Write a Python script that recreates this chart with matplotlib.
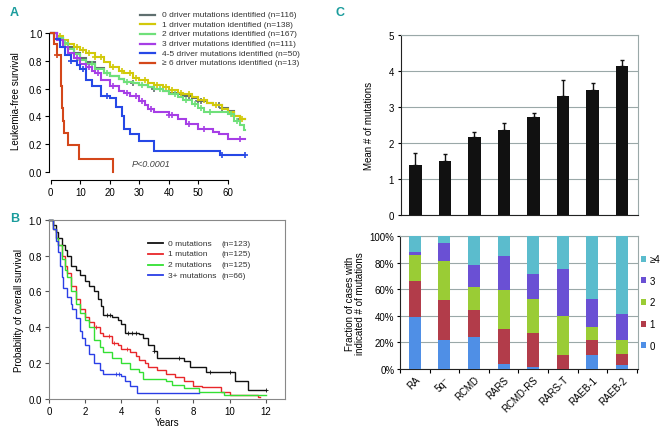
import numpy as np
import matplotlib
matplotlib.use("Agg")
import matplotlib.pyplot as plt

plt.rcParams['font.family'] = ['Liberation Sans Narrow', 'Liberation Sans', 'DejaVu Sans']

W, H = 671, 431
fig = plt.figure(figsize=(W / 100, H / 100), dpi=100)

def axes_px(l, t, r, b):
    return fig.add_axes([l / W, 1 - b / H, (r - l) / W, (b - t) / H])

# ---------------- Panel A data ----------------
a_labels = ["0 driver mutations identified (n=116)",
            "1 driver mutation identified (n=138)",
            "2 driver mutations identified (n=167)",
            "3 driver mutations identified (n=111)",
            "4-5 driver mutations identified (n=50)",
            "\u2265 6 driver mutations identified (n=13)"]
a_colors = ["#5f6f6f", "#d2c90a", "#6fe07a", "#a63ee6", "#2648e6", "#d4471a"]
a0_t = [0, 2, 4, 6, 8, 10, 12, 15, 18, 20, 23, 25, 28, 30, 33, 35, 38, 40, 43, 45, 48, 50, 53, 55, 58, 60, 62, 64]
a0_s = [1, .97, .93, .90, .86, .82, .79, .75, .71, .69, .67, .65, .64, .63, .61, .60, .58, .57, .56, .55, .53, .51, .50, .48, .46, .44, .40, .38]
a1_t = [0, 2, 4, 6, 8, 10, 12, 15, 18, 20, 23, 25, 28, 30, 33, 35, 38, 40, 43, 45, 48, 50, 53, 55, 58, 60, 62, 64]
a1_s = [1, .98, .95, .92, .90, .88, .86, .83, .79, .76, .73, .71, .68, .66, .64, .63, .61, .59, .57, .56, .54, .52, .50, .48, .45, .43, .40, .38]
a2_t = [0, 2, 4, 6, 8, 10, 12, 15, 18, 20, 23, 25, 28, 30, 33, 35, 38, 40, 43, 45, 48, 50, 52, 55, 60, 62, 64, 65.5]
a2_s = [1, .97, .93, .89, .85, .81, .78, .74, .71, .69, .67, .65, .64, .63, .61, .60, .58, .56, .54, .52, .49, .46, .43, .43, .42, .37, .34, .30]
a3_t = [0, 2, 4, 6, 8, 10, 12, 14, 15, 17, 20, 23, 25, 27, 30, 32, 33, 35, 40, 43, 46, 50, 55, 57, 60]
a3_s = [1, .95, .90, .86, .82, .78, .76, .73, .71, .66, .62, .58, .57, .55, .51, .48, .45, .43, .41, .38, .345, .31, .29, .27, .235]
a4_t = [0, 1, 3, 5, 7, 9, 10, 12, 14, 17, 20, 22, 24, 25, 27, 30, 35, 57.5]
a4_s = [1, .96, .90, .84, .80, .77, .74, .66, .62, .55, .53, .47, .40, .31, .27, .22, .15, .12]
a5_t = [0, 1, 2, 3.5, 3.8, 4.2, 4.5, 6, 9.5, 21.2]
a5_s = [1, .92, .84, .62, .46, .37, .28, .19, .095, 0]
a_end = [66, 66, 66, 66, 66, 21.2]
a_cens = [[28, 35, 47, 50, 51, 57, 58, 64],
          [3, 6, 9, 11, 13, 15, 17, 21, 24, 27, 29, 32, 36, 39, 41, 44, 47, 52, 56, 62, 65],
          [5, 10, 14, 19, 26, 31, 37, 42, 46, 49, 51, 54, 61, 63],
          [9, 13, 16, 21, 26, 29, 31, 34, 40, 41, 47, 52, 64],
          [7, 11, 19, 58, 66],
          [2]]

# ---------------- Panel B data ----------------
b_labels = ["0 mutations", "1 mutation", "2 mutations", "3+ mutations"]
b_ns = ["(n=123)", "(n=125)", "(n=125)", "(n=66)"]
b_colors = ["#111111", "#e8262a", "#33e033", "#2a3ee6"]
b0_t = [0, .2, .4, .5, .7, .9, 1.0, 1.2, 1.5, 1.7, 2.0, 2.2, 2.5, 2.7, 2.9, 3.0, 3.5, 3.8, 4.0, 4.2, 5.0, 5.2, 5.5, 5.8, 6.0, 7.5, 7.8, 8.7, 10.3, 11.0]
b0_s = [1, .97, .93, .90, .86, .83, .80, .74, .72, .69, .66, .63, .60, .56, .52, .47, .46, .44, .42, .37, .36, .34, .30, .27, .23, .21, .18, .15, .10, .05]
b1_t = [0, .2, .4, .5, .7, .9, 1, 1.2, 1.5, 1.7, 2, 2.2, 2.5, 2.8, 3, 3.5, 3.8, 4, 4.5, 4.8, 5, 5.3, 5.5, 6, 6.5, 7, 7.5, 8, 8.5, 9.5, 10, 11.6]
b1_s = [1, .95, .90, .86, .80, .74, .70, .63, .56, .50, .46, .43, .40, .37, .35, .31, .30, .28, .26, .24, .22, .20, .18, .16, .14, .12, .10, .07, .065, .04, .02, .01]
b2_t = [0, .2, .4, .5, .7, .9, 1, 1.2, 1.5, 1.7, 2, 2.2, 2.5, 2.8, 3, 3.5, 4, 4.5, 5, 5.2, 6.5, 6.8, 7.5, 8.3, 9.7]
b2_s = [1, .95, .90, .86, .78, .72, .68, .60, .53, .48, .44, .40, .33, .29, .26, .23, .20, .17, .15, .11, .10, .08, .06, .04, .025]
b3_t = [0, .2, .4, .5, .6, .7, .8, 1, 1.2, 1.3, 1.5, 1.7, 1.8, 2, 2.2, 2.5, 2.8, 3, 4, 4.2, 4.5, 4.9]
b3_s = [1, .95, .88, .82, .74, .68, .62, .57, .53, .50, .45, .38, .34, .30, .25, .20, .16, .14, .13, .10, .07, .035]
b_end = [12, 11.7, 12, 8.3]
b_cens = [[3.2, 3.4, 4.4, 4.6, 4.8, 5.8, 7.2, 8.9, 10, 12],
          [2.6, 3.3, 3.6, 4.3],
          [],
          [3.7, 3.9]]

# ---------------- Panel C data ----------------
categories = ["RA", "5q\u207b", "RCMD", "RARS", "RCMD-RS", "RARS-T", "RAEB-1", "RAEB-2"]
means = [1.40, 1.51, 2.15, 2.37, 2.71, 3.31, 3.48, 4.13]
errs = [0.32, 0.18, 0.14, 0.17, 0.12, 0.43, 0.17, 0.16]
frac_labels = ["0", "1", "2", "3", "\u22654"]
frac_colors = ["#4f8fe6", "#b23c4a", "#9acc35", "#6a50d4", "#5bbccd"]
p0 = [39.3, 21.9, 24.2, 3.8, 1.5, 0.0, 10.3, 2.8]
p1 = [26.7, 30.0, 20.1, 26.2, 25.2, 10.6, 11.4, 8.3]
p2 = [19.9, 29.7, 17.7, 29.7, 25.9, 29.0, 9.5, 10.6]
p3 = [2.5, 13.3, 16.3, 25.6, 18.9, 35.7, 21.4, 19.6]
p4 = [11.6, 5.1, 21.7, 14.7, 28.5, 24.7, 47.4, 58.7]

teal = "#1a9c9c"

def step_eval(t, s, x):
    idx = np.searchsorted(np.asarray(t), x, side="right") - 1
    return np.asarray(s)[np.clip(idx, 0, len(s) - 1)]

def km_draw(ax, t, s, end, color, lw, cens, ms, mew):
    tt = list(t) + [end]
    ss = list(s) + [s[-1]]
    ax.step(tt, ss, where="post", color=color, lw=lw, clip_on=False, solid_joinstyle="miter")
    if cens:
        c = np.asarray(cens, dtype=float)
        ax.plot(c, step_eval(t, s, c), ls="none", marker="+", ms=ms, mew=mew, color=color, clip_on=False)

# ================= Panel A =================
axA = axes_px(50.7, 30.2, 248.4, 172.7)
axA.set_xlim(0, 67)
axA.set_ylim(0, 1.03)
for t, s, e, c, cz in zip([a0_t, a1_t, a2_t, a3_t, a4_t, a5_t],
                          [a0_s, a1_s, a2_s, a3_s, a4_s, a5_s], a_end, a_colors, a_cens):
    km_draw(axA, t, s, e, c, 1.5, cz, 5, 1.2)
axA.spines["top"].set_visible(False)
axA.spines["right"].set_visible(False)
axA.spines["bottom"].set_position(("outward", 6))
axA.spines["left"].set_position(("outward", 1))
axA.spines["bottom"].set_bounds(0, 60)
axA.spines["left"].set_bounds(0, 1)
axA.set_xticks([0, 10, 20, 30, 40, 50, 60])
axA.set_yticks([0, .2, .4, .6, .8, 1.0])
axA.set_yticklabels(["0.0", "0.2", "0.4", "0.6", "0.8", "1.0"])
axA.tick_params(labelsize=7, length=3, width=0.8, pad=2)
axA.set_ylabel("Leukemia-free survival", fontsize=7, labelpad=6)
axA.text(27.5, 0.04, "P<0.0001", fontsize=6.5, color="#444444", style="italic")
for i, (lab, c) in enumerate(zip(a_labels, a_colors)):
    y = 15.7 + i * 9.6
    fig.lines.append(plt.Line2D([140 / W, 155 / W], [1 - y / H, 1 - y / H], color=c, lw=1.6, transform=fig.transFigure))
    fig.text(162 / W, 1 - y / H, lab, fontsize=6, va="center", ha="left", color="#333333")
fig.text(10 / W, 1 - 13 / H, "A", fontsize=9, fontweight="bold", color=teal, va="center")

# ================= Panel B =================
axB = axes_px(49, 220.7, 285, 400)
axB.set_xlim(0, 13.07)
axB.set_ylim(0, 1)
for t, s, e, c, cz in zip([b0_t, b1_t, b2_t, b3_t], [b0_s, b1_s, b2_s, b3_s], b_end, b_colors, b_cens):
    km_draw(axB, t, s, e, c, 1.0, cz, 3, 0.6)
for sp in axB.spines.values():
    sp.set_color("#888888")
    sp.set_linewidth(0.8)
axB.set_xticks([0, 2, 4, 6, 8, 10, 12])
axB.set_yticks([0, .2, .4, .6, .8, 1.0])
axB.set_yticklabels(["0.0", "0.2", "0.4", "0.6", "0.8", "1.0"])
axB.tick_params(labelsize=7, length=3, width=0.8, pad=2, color="#555555")
axB.set_ylabel("Probability of overall survival", fontsize=7, labelpad=3)
axB.set_xlabel("Years", fontsize=7, labelpad=1)
for i, (lab, n, c) in enumerate(zip(b_labels, b_ns, b_colors)):
    y = 244.3 + i * 10.7
    fig.lines.append(plt.Line2D([148 / W, 163 / W], [1 - y / H, 1 - y / H], color=c, lw=1.3, transform=fig.transFigure))
    fig.text(168 / W, 1 - y / H, lab, fontsize=6, va="center", ha="left", color="#333333")
    fig.text(222 / W, 1 - y / H, n, fontsize=6, va="center", ha="left", color="#333333")
fig.text(10 / W, 1 - 219 / H, "B", fontsize=9, fontweight="bold", color=teal, va="center")

# ================= Panel C top =================
x = np.arange(len(categories))
axC1 = axes_px(400.7, 35.7, 637.7, 216)
axC1.set_xlim(-0.5, 7.53)
axC1.set_ylim(0, 5)
axC1.yaxis.grid(True, color="#9aa8a8", lw=0.8)
axC1.set_axisbelow(True)
axC1.bar(x, means, width=0.41, color="#111111", zorder=3)
axC1.errorbar(x, means, yerr=[np.zeros(len(errs)), errs], fmt="none", ecolor="#111111",
              elinewidth=1.0, capsize=1.5, capthick=1.0, zorder=3)
axC1.set_yticks([0, 1, 2, 3, 4, 5])
axC1.set_xticks(x[:-1] + 0.5)
axC1.set_xticklabels([])
axC1.tick_params(labelsize=7, length=2, width=0.8, pad=3)
axC1.tick_params(axis="x", length=0)
axC1.spines["left"].set_color("#222222")
axC1.spines["bottom"].set_color("#222222")
for k in ["top", "right"]:
    axC1.spines[k].set_color("#9aa8a8")
axC1.set_ylabel("Mean # of mutations", fontsize=7, labelpad=10)
fig.text(335 / W, 1 - 13 / H, "C", fontsize=9, fontweight="bold", color=teal, va="center")

# ================= Panel C bottom =================
axC2 = axes_px(400, 237.3, 637.7, 369.7)
axC2.set_xlim(-0.5, 7.53)
axC2.set_ylim(0, 100)
axC2.yaxis.grid(True, color="#9aa8a8", lw=0.8)
axC2.set_axisbelow(True)
bottom = np.zeros(len(categories))
for vals, c, lab in zip([p0, p1, p2, p3, p4], frac_colors, frac_labels):
    axC2.bar(x, vals, bottom=bottom, width=0.41, color=c, label=lab, zorder=3)
    bottom = bottom + np.asarray(vals)
axC2.set_yticks([0, 20, 40, 60, 80, 100])
axC2.set_yticklabels(["0%", "20%", "40%", "60%", "80%", "100%"])
axC2.set_xticks(x)
axC2.set_xticklabels(categories, rotation=45, ha="right", rotation_mode="anchor")
axC2.set_xticks(np.arange(-0.5, 8, 1.0), minor=True)
axC2.tick_params(axis="x", which="major", length=0, labelsize=7, pad=4)
axC2.tick_params(axis="x", which="minor", length=3, width=0.8)
axC2.tick_params(axis="y", labelsize=7, length=2, width=0.8, pad=2)
axC2.spines["left"].set_color("#222222")
axC2.spines["bottom"].set_color("#222222")
for k in ["top", "right"]:
    axC2.spines[k].set_color("#9aa8a8")
axC2.set_ylabel("Fraction of cases with\nindicated # of mutations", fontsize=7, labelpad=3, linespacing=1.0)
h, l = axC2.get_legend_handles_labels()
axC2.legend(h[::-1], l[::-1], loc="center left", bbox_to_anchor=(1.0, 0.5), frameon=False,
            fontsize=7, handlelength=0.55, handleheight=0.55, handletextpad=0.35, labelspacing=1.2,
            borderaxespad=0.2, borderpad=0.1)

fig.savefig("out.png", dpi=100)
